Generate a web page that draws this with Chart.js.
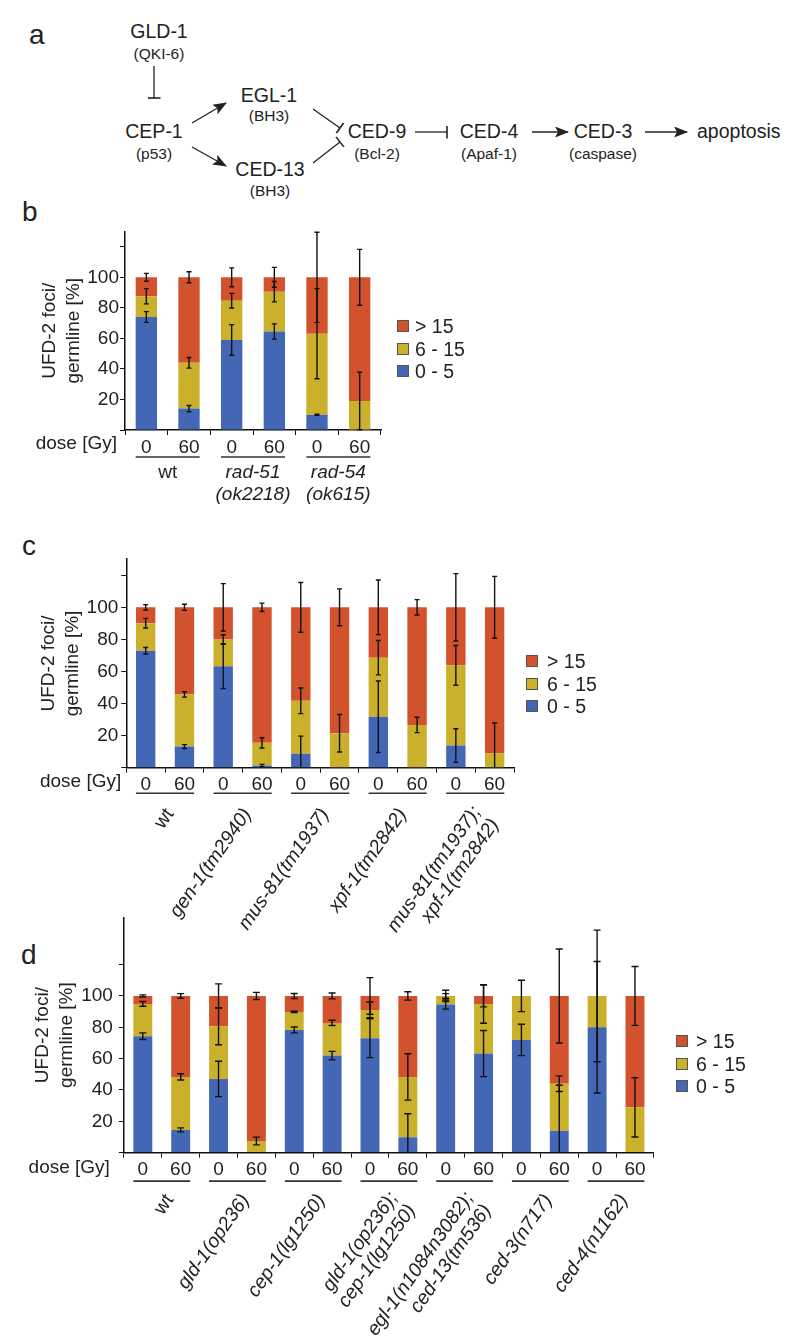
<!DOCTYPE html>
<html>
<head>
<meta charset="utf-8">
<script src="https://cdn.jsdelivr.net/npm/chart.js@4.4.0/dist/chart.umd.min.js"></script>
<style>
  body { margin: 0; background: #fff; font-family: "Liberation Sans", Arial, sans-serif; color: #222; }
  #page { position: relative; width: 800px; height: 1342px; overflow: hidden; }
  canvas, svg, .letter, .legend { position: absolute; }
  .letter { font-size: 28px; line-height: 28px; }
  .legend .item { position: absolute; height: 22px; line-height: 22px; font-size: 19.5px; white-space: nowrap; }
  .legend .box { position: absolute; left: 0; top: 5px; width: 10px; height: 10px; border: 1px solid #555; }
</style>
</head>
<body>
<div id="page">

  <div class="letter" style="left:29px; top:21px;">a</div>
  <div class="letter" style="left:22px; top:198px;">b</div>
  <div class="letter" style="left:22px; top:532px;">c</div>
  <div class="letter" style="left:21px; top:941px;">d</div>

  <svg width="800" height="205" style="left:0; top:0;" font-family="Liberation Sans, Arial, sans-serif" fill="#222">
    <defs>
      <marker id="arrow" markerWidth="14" markerHeight="11" refX="13" refY="5.5" orient="auto" markerUnits="userSpaceOnUse">
        <path d="M0,0 L14,5.5 L0,11 L3,5.5 z" fill="#222"/>
      </marker>
      <marker id="bar" markerWidth="3" markerHeight="13" refX="1.5" refY="6.5" orient="auto" markerUnits="userSpaceOnUse">
        <path d="M1.5,0 L1.5,13" stroke="#222" stroke-width="1.6"/>
      </marker>
    </defs>
    <g font-size="19.5" text-anchor="middle">
      <text x="159" y="38">GLD-1</text>
      <text x="154" y="138">CEP-1</text>
      <text x="269" y="102">EGL-1</text>
      <text x="270" y="176">CED-13</text>
      <text x="377" y="138">CED-9</text>
      <text x="489" y="138">CED-4</text>
      <text x="603" y="138">CED-3</text>
      <text x="697" y="138" text-anchor="start">apoptosis</text>
    </g>
    <g font-size="15.5" text-anchor="middle">
      <text x="159" y="59">(QKI-6)</text>
      <text x="154" y="159">(p53)</text>
      <text x="269" y="121">(BH3)</text>
      <text x="270" y="196">(BH3)</text>
      <text x="377" y="159">(Bcl-2)</text>
      <text x="489" y="159">(Apaf-1)</text>
      <text x="603" y="159">(caspase)</text>
    </g>
    <g stroke="#222" stroke-width="1.3" fill="none">
      <line x1="154" y1="66" x2="154" y2="98" marker-end="url(#bar)"/>
      <line x1="192" y1="123" x2="226" y2="103" marker-end="url(#arrow)"/>
      <line x1="192" y1="147" x2="226" y2="166" marker-end="url(#arrow)"/>
      <line x1="313" y1="109" x2="340" y2="128" marker-end="url(#bar)"/>
      <line x1="313" y1="163" x2="340" y2="142" marker-end="url(#bar)"/>
      <line x1="415" y1="132" x2="447" y2="132" marker-end="url(#bar)"/>
      <line x1="532" y1="132" x2="568" y2="132" marker-end="url(#arrow)"/>
      <line x1="645" y1="132" x2="687" y2="132" marker-end="url(#arrow)"/>
    </g>
  </svg>

  <canvas id="chartB"></canvas>
  <canvas id="chartC"></canvas>
  <canvas id="chartD"></canvas>
  <div class="legend" id="legendB"></div>
  <div class="legend" id="legendC"></div>
  <div class="legend" id="legendD"></div>
</div>

<script>
// series (stack order bottom -> top)
const seriesNames = ["0 - 5", "6 - 15", "> 15"];
const seriesColors = ["#4467b5", "#cbb02c", "#d2522d"];
const yTicks = [0, 20, 40, 60, 80, 100, 120];

// ---- panel b ----
const doseB = ["0", "60", "0", "60", "0", "60"];
const genotypesB = [["wt"], ["rad-51", "(ok2218)"], ["rad-54", "(ok615)"]];
const lowB = [74, 14, 59, 64.5, 10, 0];
const midB = [13.6, 30, 25.7, 26.1, 53.1, 19];
const highB = [12.4, 56, 15.3, 9.4, 36.9, 81];
const errLowB = [3.5, 2, 10, 5, 0.3, 0];
const errMidB = [5, 3.5, 4.8, 6.7, 29.5, 18.8];
const errHighB = [2.6, 3.6, 6.2, 6.5, 29.5, 18.3];

// ---- panel c ----
const doseC = ["0", "60", "0", "60", "0", "60", "0", "60", "0", "60"];
const genotypesC = [["wt"], ["gen-1(tm2940)"], ["mus-81(tm1937)"], ["xpf-1(tm2842)"],
                    ["mus-81(tm1937);", "xpf-1(tm2842)"]];
const lowC = [72.9, 13.2, 63.3, 1.4, 8.7, 0, 31.8, 0, 13.8, 0];
const midC = [17.2, 32.5, 16.6, 14.1, 33, 21.5, 36.8, 26.7, 50, 8.9];
const highC = [9.9, 54.3, 20.1, 84.5, 58.3, 78.5, 31.4, 73.3, 36.2, 91.1];
const errLowC = [2, 1.2, 14, 0.7, 11, 0, 22.3, 0, 10.5, 0];
const errMidC = [3, 1.7, 3, 3.2, 8, 11.7, 10.7, 4.8, 12.4, 19];
const errHighC = [1.7, 1.9, 14.8, 2.6, 15.5, 11.5, 17, 4.8, 21, 19.3];

// ---- panel d ----
const doseD = ["0", "60", "0", "60", "0", "60", "0", "60", "0", "60", "0", "60", "0", "60"];
const genotypesD = [["wt"], ["gld-1(op236)"], ["cep-1(lg1250)"], ["gld-1(op236);", "cep-1(lg1250)"],
                    ["egl-1(n1084n3082);", "ced-13(tm536)"], ["ced-3(n717)"], ["ced-4(n1162)"]];
const lowD = [74.3, 14.5, 47, 0, 78.3, 61.9, 73, 9.8, 94.5, 63.2, 71.9, 14, 80, 0];
const midD = [20.6, 33.8, 33.6, 7.4, 11.5, 20.9, 18.1, 38.5, 5.5, 31.7, 28.1, 30, 20, 28.9];
const highD = [5.1, 51.7, 19.4, 92.6, 10.2, 17.2, 8.9, 51.7, 0, 5.1, 0, 56, 0, 71.1];
const errLowD = [2.1, 1.3, 11.3, 0, 1.9, 2.7, 12.4, 15, 2.9, 14.7, 10, 29, 42, 0];
const errMidD = [1.5, 2, 11.8, 2.5, 0.4, 1.7, 5, 14.8, 1.5, 12.3, 10, 5, 42, 18.9];
const errHighD = [0.7, 1.5, 7.7, 2.3, 1.6, 1.9, 11.7, 2.7, 3.6, 7, 0, 30, 0, 18.8];

const FONT = '"Liberation Sans", Arial, sans-serif';
const INK = "#222";
Chart.defaults.font.family = FONT;
Chart.defaults.color = INK;

// error bars at the top of each stacked segment
const errorBars = {
    id: "errorBars",
    afterDatasetsDraw(chart, args, opts) {
        const ctx = chart.ctx;
        const y = chart.scales.y;
        const area = chart.chartArea;
        ctx.save();
        ctx.strokeStyle = "#111";
        ctx.lineWidth = opts.lineWidth;
        chart.data.datasets.forEach((ds, di) => {
            const meta = chart.getDatasetMeta(di);
            meta.data.forEach((bar, i) => {
                const e = ds.errors[i];
                if (!e) return;
                let top = 0;
                for (let k = 0; k <= di; k++) top += chart.data.datasets[k].data[i];
                const yHi = y.getPixelForValue(top + e);
                const yLo = Math.min(y.getPixelForValue(Math.max(0, top - e)), area.bottom);
                const x = bar.x, c = opts.cap;
                ctx.beginPath();
                ctx.moveTo(x, yHi); ctx.lineTo(x, yLo);
                ctx.moveTo(x - c, yHi); ctx.lineTo(x + c, yHi);
                if (top - e > 0) { ctx.moveTo(x - c, yLo); ctx.lineTo(x + c, yLo); }
                ctx.stroke();
            });
        });
        ctx.restore();
    }
};

// dose title, group underlines and genotype labels
const groupLabels = {
    id: "groupLabels",
    afterDraw(chart, args, o) {
        const ctx = chart.ctx;
        const meta = chart.getDatasetMeta(0);
        const base = chart.chartArea.bottom;
        ctx.save();
        ctx.fillStyle = INK;
        ctx.font = "19px " + FONT;
        ctx.textAlign = "right";
        ctx.textBaseline = "middle";
        ctx.fillText("dose [Gy]", chart.chartArea.left - o.doseGap, base + o.doseY);

        ctx.strokeStyle = "#333";
        ctx.lineWidth = 1.6;
        o.groups.forEach((lines, g) => {
            const b0 = meta.data[2 * g], b1 = meta.data[2 * g + 1];
            const x0 = b0.x - b0.width / 2, x1 = b1.x + b1.width / 2;
            ctx.beginPath();
            ctx.moveTo(x0, base + o.lineY);
            ctx.lineTo(x1, base + o.lineY);
            ctx.stroke();
            const cx = (b0.x + b1.x) / 2;
            if (o.angle) {
                ctx.save();
                ctx.translate(cx + o.labelDx, base + o.labelY);
                ctx.rotate(-o.angle * Math.PI / 180);
                ctx.textAlign = "right";
                lines.forEach((t, j) => {
                    ctx.font = (t === "wt" ? "" : "italic ") + "19.5px " + FONT;
                    ctx.fillText(t, 0, lines.length > 1 ? j * 22 - 4 : 0);
                });
                ctx.restore();
            } else {
                ctx.textAlign = "center";
                ctx.textBaseline = "alphabetic";
                lines.forEach((t, j) => {
                    ctx.font = (t === "wt" ? "" : "italic ") + "19px " + FONT;
                    ctx.fillText(t, cx, base + o.labelY + j * 22);
                });
            }
        });
        ctx.restore();
    }
};

function makeLegend(id, left, top, gap) {
    const el = document.getElementById(id);
    el.style.left = left + "px";
    el.style.top = top + "px";
    [2, 1, 0].forEach((s, row) => {
        const item = document.createElement("div");
        item.className = "item";
        item.style.top = (row * 22.6) + "px";
        item.style.paddingLeft = gap + "px";
        item.innerHTML = '<span class="box" style="background:' + seriesColors[s] + '"></span>' + seriesNames[s];
        el.appendChild(item);
    });
}

function makeChart(id, p) {
    const canvas = document.getElementById(id);
    canvas.width = p.w;
    canvas.height = p.h;
    canvas.style.left = "0px";
    canvas.style.top = p.top + "px";
    const values = [p.low, p.mid, p.high];
    const errors = [p.errLow, p.errMid, p.errHigh];

    return new Chart(canvas, {
        type: "bar",
        data: {
            labels: p.dose,
            datasets: seriesNames.map((name, s) => ({
                label: name,
                data: values[s],
                errors: errors[s],
                backgroundColor: seriesColors[s],
                borderWidth: 0
            }))
        },
        options: {
            responsive: false,
            animation: false,
            layout: { padding: { top: p.padTop, right: p.padRight, bottom: p.padBottom, left: 0 } },
            datasets: { bar: { barPercentage: 0.5, categoryPercentage: 1 } },
            plugins: {
                legend: { display: false },
                tooltip: { enabled: false },
                errorBars: { lineWidth: 1.4, cap: p.cap },
                groupLabels: {
                    groups: p.genotypes,
                    doseGap: p.doseGap, doseY: p.doseY,
                    lineY: p.lineY, labelY: p.labelY, labelDx: p.labelDx || 0, angle: p.angle || 0
                }
            },
            scales: {
                x: {
                    stacked: true,
                    grid: { drawOnChartArea: false, drawTicks: true, tickLength: 5, color: "#111", offset: true },
                    border: { color: "#111", width: 1.5 },
                    ticks: { font: { size: 19 }, color: INK, padding: 1, maxRotation: 0, autoSkip: false },
                    afterFit(scale) { scale.height = 25; }
                },
                y: {
                    stacked: true,
                    min: 0,
                    max: p.yMax,
                    afterBuildTicks(scale) { scale.ticks = yTicks.map(v => ({ value: v })); },
                    grid: { drawOnChartArea: false, drawTicks: true, tickLength: 5, color: "#111" },
                    border: { color: "#111", width: 1.5 },
                    ticks: {
                        font: { size: 19 }, color: INK, padding: p.tickPad,
                        callback: v => (v > 0 && v <= 100 ? v : "")
                    },
                    title: {
                        display: true,
                        text: ["UFD-2 foci/", "germline [%]"],
                        font: { size: 19, lineHeight: 1.27 },
                        color: INK,
                        padding: { top: p.titlePad, bottom: 0 }
                    },
                    afterFit(scale) { scale.width = p.axisW; }
                }
            }
        },
        plugins: [errorBars, groupLabels]
    });
}

makeChart("chartB", {
    top: 215, w: 400, h: 300, padTop: 16.5, padRight: 19, padBottom: 60, axisW: 125, yMax: 130,
    dose: doseB, genotypes: genotypesB, low: lowB, mid: midB, high: highB,
    errLow: errLowB, errMid: errMidB, errHigh: errHighB,
    cap: 2.5, tickPad: 1, titlePad: 38, doseGap: 8, doseY: 14, lineY: 27, labelY: 48
});
makeChart("chartC", {
    top: 540, w: 560, h: 400, padTop: 19.2, padRight: 46, padBottom: 147.3, axisW: 126.3, yMax: 130,
    dose: doseC, genotypes: genotypesC, low: lowC, mid: midC, high: highC,
    errLow: errLowC, errMid: errMidC, errHigh: errHighC,
    cap: 2.5, tickPad: 3, titlePad: 37, doseGap: 5, doseY: 14, lineY: 25.5, labelY: 43, labelDx: 5, angle: 55
});
makeChart("chartD", {
    top: 900, w: 680, h: 442, padTop: 17.6, padRight: 26.1, padBottom: 164.4, axisW: 123.9, yMax: 150,
    dose: doseD, genotypes: genotypesD, low: lowD, mid: midD, high: highD,
    errLow: errLowD, errMid: errMidD, errHigh: errHighD,
    cap: 3.5, tickPad: 6, titlePad: 31, doseGap: 14, doseY: 15.5, lineY: 28.5, labelY: 44, labelDx: 8, angle: 55
});

makeLegend("legendB", 397, 315, 18);
makeLegend("legendC", 526, 650, 21);
makeLegend("legendD", 676, 1030, 20);
</script>
</body>
</html>
